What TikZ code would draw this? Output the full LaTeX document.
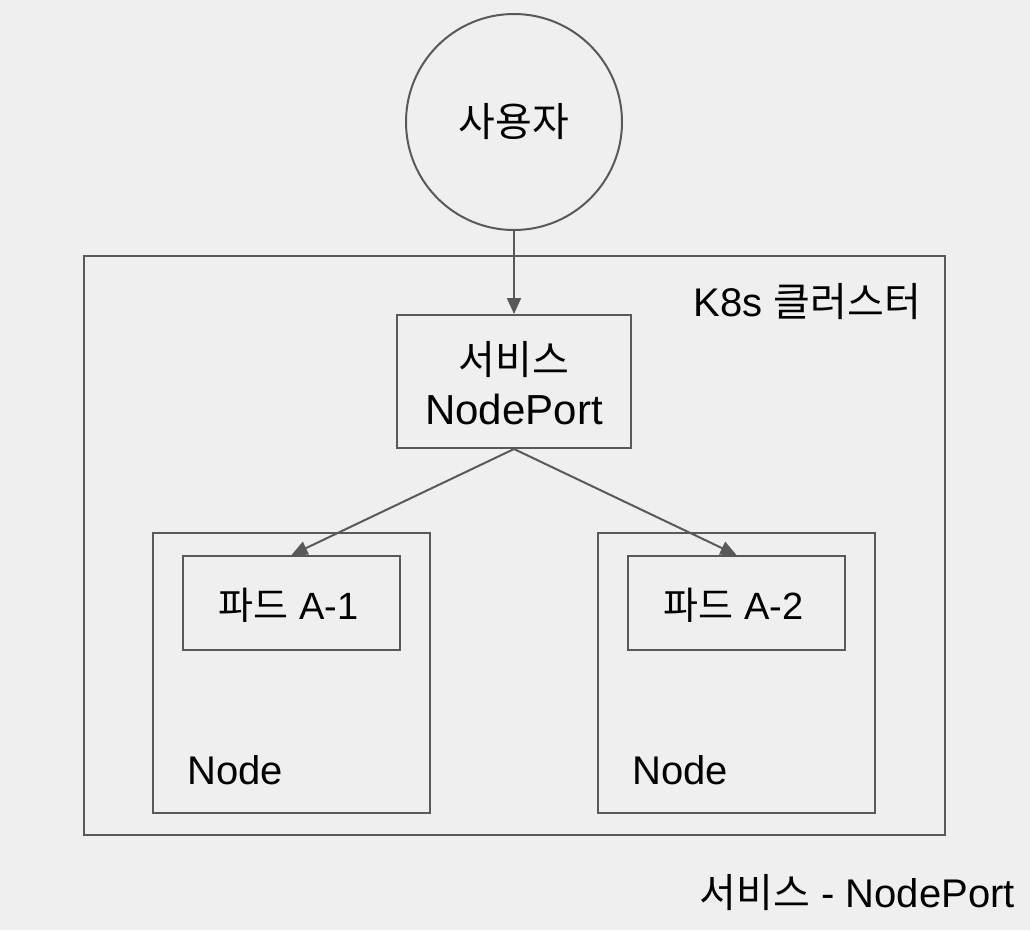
\documentclass[tikz,border=0pt]{standalone}
\usepackage{fontspec}
\setmainfont{Liberation Sans}
\newfontfamily\krfont{Noto Sans CJK KR}
\usetikzlibrary{arrows.meta}
\definecolor{bg}{HTML}{EFEFEF}
\definecolor{ln}{HTML}{595959}
\begin{document}
\begin{tikzpicture}[x=1pt,y=-1pt,
  box/.style={draw=ln,line width=2pt},
  conn/.style={draw=ln,line width=2pt,-{Triangle[length=16pt,width=14pt]}},
  lbl/.style={inner sep=0pt,text=black}]
\fill[bg] (0,0) rectangle (1030,930);
\useasboundingbox (0,0) rectangle (1030,930);
\node[box,circle,minimum size=216pt,inner sep=0pt] (user) at (514,122) {};
\node[lbl,font=\fontsize{40}{48}\selectfont] (userlbl) at (514,122) {\krfont 사용자};
\draw[box] (84,256) rectangle (945,835);
\node[box,minimum width=234pt,minimum height=133pt,inner sep=0pt] (svc) at (514,381.5) {};
\node[lbl,font=\fontsize{42}{50}\selectfont,align=center] (svclbl) at (514,383) {{\fontsize{40}{50}\selectfont\krfont 서비스}\\NodePort};
\node[lbl,anchor=east,font=\fontsize{40}{46}\selectfont] (k8s) at (921,302) {K8s {\krfont 클러스터}};
\node[box,minimum width=277pt,minimum height=280pt,inner sep=0pt] (node1) at (291.5,673) {};
\node[box,minimum width=277pt,minimum height=280pt,inner sep=0pt] (node2) at (736.5,673) {};
\node[box,minimum width=217pt,minimum height=94pt,inner sep=0pt] (pod1) at (291.5,603) {};
\node[box,minimum width=217pt,minimum height=94pt,inner sep=0pt] (pod2) at (736.5,603) {};
\node[lbl,font=\fontsize{38}{46}\selectfont] (pod1lbl) at (288.5,605) {{\krfont 파드} A-1};
\node[lbl,font=\fontsize{38}{46}\selectfont] (pod2lbl) at (733.5,605) {{\krfont 파드} A-2};
\node[lbl,anchor=west,font=\fontsize{40}{46}\selectfont] (n1lbl) at (187,770) {Node};
\node[lbl,anchor=west,font=\fontsize{40}{46}\selectfont] (n2lbl) at (632,770) {Node};
\node[lbl,anchor=east,font=\fontsize{40}{46}\selectfont] (cap) at (1015,893) {{\krfont 서비스} - NodePort};
\draw[conn] (user.south) -- (svc.north);
\draw[conn] (svc.south) -- (pod1.north);
\draw[conn] (svc.south) -- (pod2.north);
\end{tikzpicture}
\end{document}
